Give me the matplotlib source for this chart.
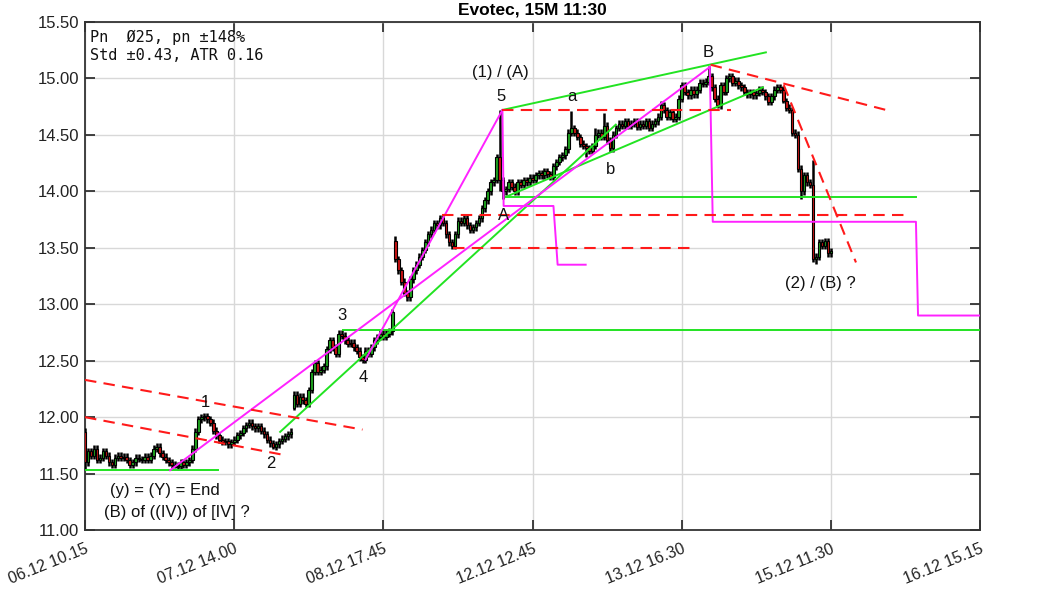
import matplotlib
matplotlib.use("Agg")
import matplotlib.pyplot as plt
from matplotlib.patches import Rectangle

# ---------------- data ----------------
closes = [
    11.60, 11.70, 11.66, 11.72, 11.62, 11.64, 11.70, 11.66, 11.60, 11.58,
    11.64, 11.66, 11.64, 11.65, 11.62, 11.58, 11.60, 11.64, 11.63, 11.62,
    11.65, 11.62, 11.66, 11.72, 11.74, 11.68, 11.65, 11.62, 11.60, 11.58,
    11.56, 11.57, 11.60, 11.58, 11.60, 11.62, 11.72, 11.87, 11.98, 12.00,
    12.01, 11.98, 11.95, 11.88, 11.84, 11.80, 11.78, 11.79, 11.76, 11.78,
    11.80, 11.84, 11.86, 11.90, 11.93, 11.95, 11.92, 11.90, 11.92, 11.88,
    11.85, 11.80, 11.77, 11.74, 11.76, 11.79, 11.81, 11.83, 11.85, 11.87,
    12.20, 12.12, 12.18, 12.15, 12.12, 12.24, 12.40, 12.48, 12.40, 12.42,
    12.45, 12.60, 12.68, 12.62, 12.56, 12.74, 12.72, 12.68, 12.65, 12.66,
    12.62, 12.59, 12.53, 12.51, 12.59, 12.56, 12.62, 12.68, 12.71, 12.74,
    12.71, 12.74, 12.76, 12.93, 13.40, 13.30, 13.20, 13.10, 13.06, 13.22,
    13.30, 13.35, 13.42, 13.48, 13.55, 13.62, 13.66, 13.72, 13.70, 13.76,
    13.72, 13.62, 13.55, 13.52, 13.62, 13.74, 13.72, 13.76, 13.70, 13.66,
    13.68, 13.72, 13.76, 13.85, 13.92, 14.00, 14.08, 14.10, 14.30, 14.10,
    14.00, 14.02, 14.08, 14.04, 14.00, 14.08, 14.06, 14.10, 14.08, 14.12,
    14.10, 14.14, 14.16, 14.14, 14.18, 14.15, 14.13, 14.22, 14.26, 14.30,
    14.32, 14.37, 14.52, 14.56, 14.52, 14.48, 14.42, 14.40, 14.38, 14.36,
    14.40, 14.50, 14.52, 14.48, 14.58, 14.45, 14.38, 14.50, 14.56, 14.60,
    14.58, 14.62, 14.58, 14.60, 14.62, 14.57, 14.60, 14.58, 14.62, 14.56,
    14.60, 14.62, 14.66, 14.76, 14.72, 14.66, 14.70, 14.64, 14.66, 14.82,
    14.94, 14.88, 14.85, 14.90, 14.86, 14.90, 14.96, 14.95, 14.97, 15.02,
    14.92, 14.82, 14.76, 14.94, 14.88, 15.00, 15.02, 14.96, 14.98, 14.94,
    14.92, 14.88, 14.86, 14.88, 14.85, 14.87, 14.90, 14.88, 14.84, 14.79,
    14.84, 14.90, 14.92, 14.90, 14.80, 14.74, 14.72, 14.52, 14.50, 14.20,
    14.00, 14.14, 14.08, 14.06, 13.40, 13.42, 13.55, 13.52, 13.56, 13.45,
    13.47,
]
# opens that gap away from the previous close
gap_opens = {0: 11.87, 70: 12.08, 104: 13.56, 139: 14.30}
# wick extremes that stick out of the body
spike_highs = {0: 11.90, 103: 12.96, 104: 13.60, 138: 14.33, 139: 14.72,
               163: 14.71, 171: 14.56, 174: 14.69, 193: 14.80, 200: 14.97,
               209: 15.11, 244: 14.28}
spike_lows = {0: 11.54, 30: 11.55, 63: 11.72, 70: 12.06, 93: 12.48,
              108: 13.03, 139: 14.00, 140: 13.93, 144: 13.97, 168: 14.30,
              176: 14.35, 212: 14.74, 234: 14.78, 240: 13.93, 245: 13.36}

tick_bars = [0, 50, 100, 150, 200, 250, 300]
tick_labels = ["06.12 10.15", "07.12 14.00", "08.12 17.45", "12.12 12.45",
               "13.12 16.30", "15.12 11.30", "16.12 15.15"]

green_lines = [
    [(0, 11.53), (44.6, 11.53)],
    [(65.4, 11.87), (177.9, 14.59)],
    [(86.6, 12.77), (300, 12.77)],
    [(139.9, 14.72), (228.2, 15.23)],
    [(141.0, 13.95), (227.2, 14.92)],
    [(141.0, 13.95), (278.5, 13.95)],
]
magenta_lines = [
    [(28.5, 11.53), (209.4, 15.10)],
    [(94.0, 12.51), (139.9, 14.72)],
    [(139.9, 14.72), (140.3, 13.87), (157.0, 13.87), (158.4, 13.35), (167.8, 13.35)],
    [(209.4, 15.10), (210.4, 13.73), (278.5, 13.73), (279.2, 12.90), (300, 12.90)],
]
red_dashed = [
    [(0, 12.33), (93, 11.89)],
    [(0, 12.00), (67.8, 11.66)],
    [(139.9, 14.72), (216.4, 14.72)],
    [(119.8, 13.79), (275.8, 13.79)],
    [(123.2, 13.50), (203.0, 13.50)],
    [(209.7, 15.12), (268.5, 14.72)],
    [(234.2, 14.94), (258.4, 13.37)],
]
wave_labels = [
    ("(1) / (A)", 139.3, 15.05), ("5", 139.3, 14.84), ("a", 163.1, 14.84),
    ("b", 176.2, 14.19), ("A", 140.3, 13.79), ("B", 209.0, 15.23),
    ("1", 40.3, 12.13), ("2", 62.1, 11.59), ("3", 86.2, 12.90), ("4", 93.3, 12.35),
    ("(y) = (Y) = End", 26.8, 11.35), ("(B) of ((IV)) of [IV] ?", 30.9, 11.16),
    ("(2) / (B) ?", 246.6, 13.18),
]
info_lines = ["Pn  \u00d825, pn \u00b1148%", "Std \u00b10.43, ATR 0.16"]
title = "Evotec, 15M 11:30"

# ---------------- figure ----------------
plt.rcParams['font.family'] = ['Liberation Sans', 'DejaVu Sans']
fig = plt.figure(figsize=(10.63, 5.91), dpi=100)
ax = fig.add_axes([0.080, 0.103, 0.842, 0.860])

ax.set_xlim(0, 300)
ax.set_ylim(11.0, 15.5)
ax.set_xticks(tick_bars)
ax.set_xticklabels(tick_labels, rotation=22, ha='right', rotation_mode='anchor', fontsize=11.5)
yt = [11.0 + 0.5 * k for k in range(10)]
ax.set_yticks(yt)
ax.set_yticklabels([f"{v:.2f}" for v in yt], fontsize=12)
ax.grid(True, color='#d8d8d8', lw=1.0, zorder=0)
ax.set_axisbelow(True)
ax.tick_params(direction='in', length=7, width=1.2, top=True, right=True,
               colors='#222222', labelcolor='#222222', pad=4)
ax.tick_params(axis='x', pad=8)
for s in ax.spines.values():
    s.set_color('#333333')
    s.set_linewidth(1.3)

# candles
prev = None
for i, c in enumerate(closes):
    o = gap_opens.get(i, prev if prev is not None else c)
    top, bot = max(o, c), min(o, c)
    h = max(spike_highs.get(i, top + 0.03), top)
    l = min(spike_lows.get(i, bot - 0.03), bot)
    ax.plot([i, i], [l, h], color='black', lw=1.8, solid_capstyle='butt', zorder=3)
    col = '#1fa31f' if c >= o else '#c81414'
    body = max(top - bot, 0.008)
    ax.add_patch(Rectangle((i - 0.45, bot), 0.9, body, facecolor=col,
                           edgecolor='black', lw=0.8, zorder=4))
    prev = c

for ln in green_lines:
    xs, ys = zip(*ln)
    ax.plot(xs, ys, color='#22e322', lw=1.4, zorder=5)
for ln in magenta_lines:
    xs, ys = zip(*ln)
    ax.plot(xs, ys, color='#ff22ff', lw=1.4, zorder=5)
for ln in red_dashed:
    xs, ys = zip(*ln)
    ax.plot(xs, ys, color='#ff1a1a', lw=1.5, ls=(0, (5.5, 3.5)), zorder=5)

for txt, bx, py in wave_labels:
    ax.text(bx, py, txt, fontsize=12, ha='center', va='center', color='#111111', zorder=6)

ax.text(0.005, 0.985, "\n".join(info_lines), transform=ax.transAxes, ha='left', va='top',
        fontsize=11, family='DejaVu Sans Mono', linespacing=1.25, color='#111111', zorder=6)

ax.set_title(title, fontsize=12.5, fontweight='bold', pad=5)

fig.savefig("out.png", dpi=100)
